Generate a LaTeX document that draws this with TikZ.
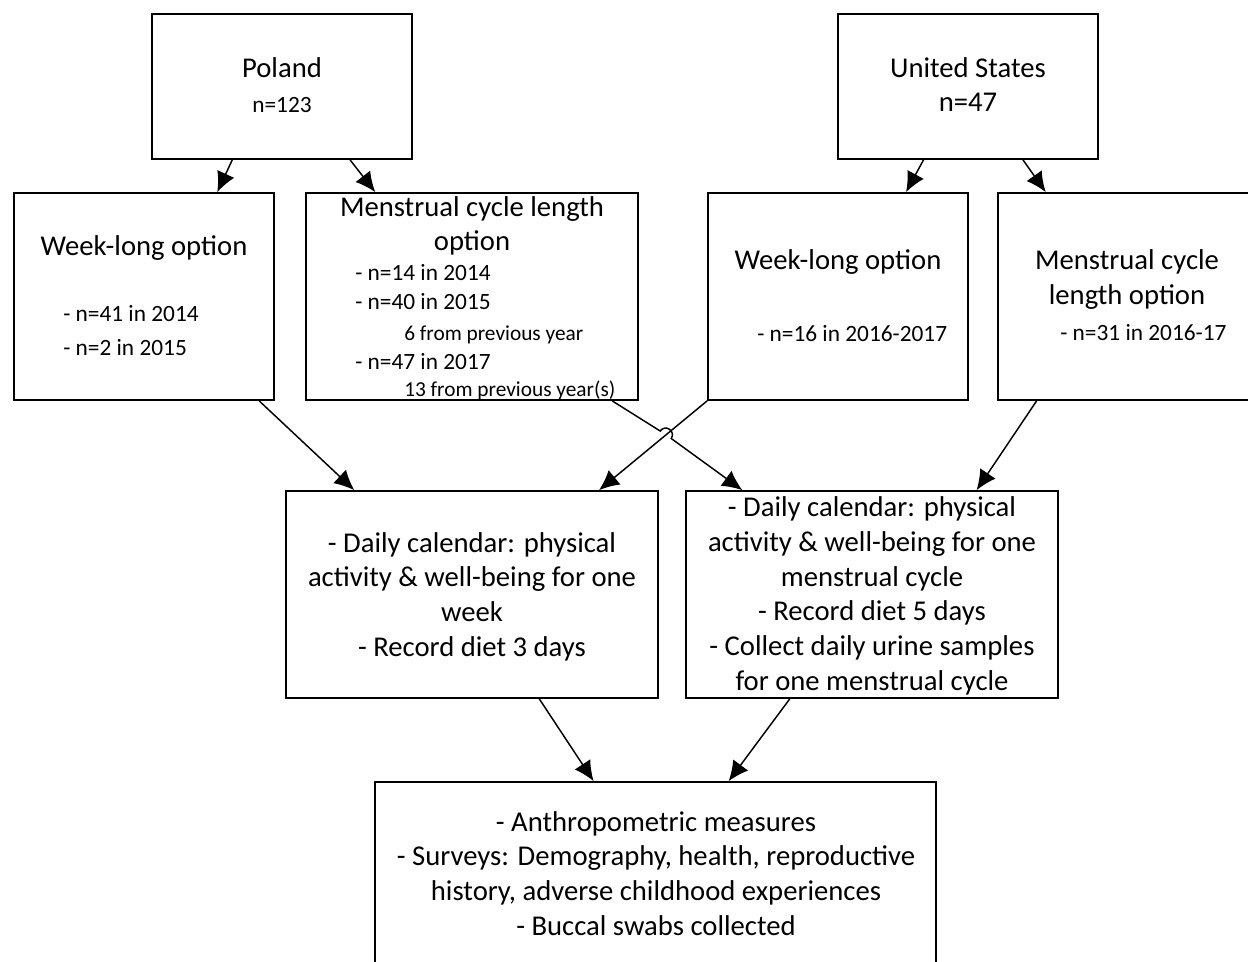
\documentclass[tikz,border=0pt]{standalone}
\usepackage{fontspec}
\setmainfont{Carlito}
\usetikzlibrary{arrows.meta,calc,intersections}

\tikzset{
  box/.style={draw,line width=1.3pt,inner sep=0pt},
  arr/.style={line width=1.1pt,-{Latex[length=15pt,width=14pt]}},
  big/.style={font=\fontsize{21.5}{26}\selectfont,align=center,anchor=base,inner sep=0pt},
  sub/.style={font=\fontsize{17.5}{21}\selectfont,anchor=base west,inner sep=0pt},
  note/.style={font=\fontsize{16}{19}\selectfont,anchor=base west,inner sep=0pt},
}

\begin{document}
\begin{tikzpicture}[x=0.75pt,y=-0.75pt]
    \useasboundingbox (0,0) rectangle (1248,962);
    \clip (0,0) rectangle (1248,962);
    \fill[white] (0,0) rectangle (1248,962);
    % boxes
    \node[box,minimum width=195pt,minimum height=108.75pt] (pl) at (282,86.5) {};
    \node[box,minimum width=195pt,minimum height=108.75pt] (us) at (968,86.5) {};
    \node[box,minimum width=195pt,minimum height=155.25pt] (plwk) at (144,296.5) {};
    \node[box,minimum width=249pt,minimum height=155.25pt] (plmc) at (472,296.5) {};
    \node[box,minimum width=195pt,minimum height=155.25pt] (uswk) at (838,296.5) {};
    \node[box,minimum width=226.5pt,minimum height=155.25pt] (usmc) at (1149,296.5) {};
    \node[box,minimum width=279pt,minimum height=155.25pt] (dwk) at (472,594.5) {};
    \node[box,minimum width=279pt,minimum height=155.25pt] (dmc) at (872,594.5) {};
    \node[box,minimum width=420.75pt,minimum height=171pt] (meas) at (655.5,896) {};
    % texts (multi-line nodes sit on the baseline of their last line)
    \node[big] (pl-name) at (282,78) {Poland};
    \node[big,font=\fontsize{17.5}{21}\selectfont] (pl-n) at (282,113) {n=123};
    \node[big] (us-name) at (968,112) {United States\\n=47};
    \node[big] (plwk-t) at (144,256) {Week-long option};
    \node[sub,align=left,font=\fontsize{17.5}{25.5}\selectfont] (plwk-l) at (63,355) {- n=41 in 2014\\- n=2 in 2015};
    \node[big] (plmc-t) at (472,251) {Menstrual cycle length\\option};
    \node[sub] (plmc-a) at (355,281) {- n=14 in 2014};
    \node[sub] (plmc-b) at (355,310) {- n=40 in 2015};
    \node[note] (plmc-c) at (404,340) {6 from previous year};
    \node[sub] (plmc-d) at (355,369) {- n=47 in 2017};
    \node[note] (plmc-e) at (404,396) {13 from previous year(s)};
    \node[big] (uswk-t) at (838,270) {Week-long option};
    \node[sub] (uswk-l) at (757,341) {- n=16 in 2016-2017};
    \node[big,font=\fontsize{21.5}{26.25}\selectfont] (usmc-t) at (1127,305) {Menstrual cycle\\length option};
    \node[sub] (usmc-l) at (1060,340) {- n=31 in 2016-17};
    \node[big] (dwk-t) at (472,656) {- Daily calendar: physical\\activity \& well-being for one\\week\\- Record diet 3 days};
    \node[big] (dmc-t) at (872,690) {- Daily calendar: physical\\activity \& well-being for one\\menstrual cycle\\- Record diet 5 days\\- Collect daily urine samples\\for one menstrual cycle};
    \node[big] (meas-t) at (656,935) {- Anthropometric measures\\- Surveys: Demography, health, reproductive\\history, adverse childhood experiences\\- Buccal swabs collected};
    % arrows
    \draw[arr] ($(pl.south west)!0.31!(pl.south east)$) -- ($(plwk.north west)!0.78!(plwk.north east)$);
    \draw[arr] ($(pl.south west)!0.76!(pl.south east)$) -- ($(plmc.north west)!0.21!(plmc.north east)$);
    \draw[arr] ($(us.south west)!0.33!(us.south east)$) -- ($(uswk.north west)!0.76!(uswk.north east)$);
    \draw[arr] ($(us.south west)!0.71!(us.south east)$) -- ($(usmc.north west)!0.16!(usmc.north east)$);
    \draw[arr] ($(plwk.south west)!0.94!(plwk.south east)$) -- ($(dwk.north west)!0.185!(dwk.north east)$);
    \draw[arr,name path=crossA] (uswk.south west) -- ($(dwk.north west)!0.84!(dwk.north east)$);
    \path[name path=crossB] ($(plmc.south west)!0.92!(plmc.south east)$) -- ($(dmc.north west)!0.153!(dmc.north east)$);
    \path[name intersections={of=crossA and crossB,by=hop}];
    \draw[arr] ($(plmc.south west)!0.92!(plmc.south east)$) -- ($(hop)!5pt!(plmc.south east)$)
        arc[start angle=145.8,end angle=-34.2,radius=5pt] -- ($(dmc.north west)!0.153!(dmc.north east)$);
    \draw[arr] ($(usmc.south west)!0.13!(usmc.south east)$) -- ($(dmc.north west)!0.78!(dmc.north east)$);
    \draw[arr] ($(dwk.south west)!0.68!(dwk.south east)$) -- ($(meas.north west)!0.39!(meas.north east)$);
    \draw[arr] ($(dmc.south west)!0.28!(dmc.south east)$) -- ($(meas.north west)!0.63!(meas.north east)$);
\end{tikzpicture}
\end{document}
